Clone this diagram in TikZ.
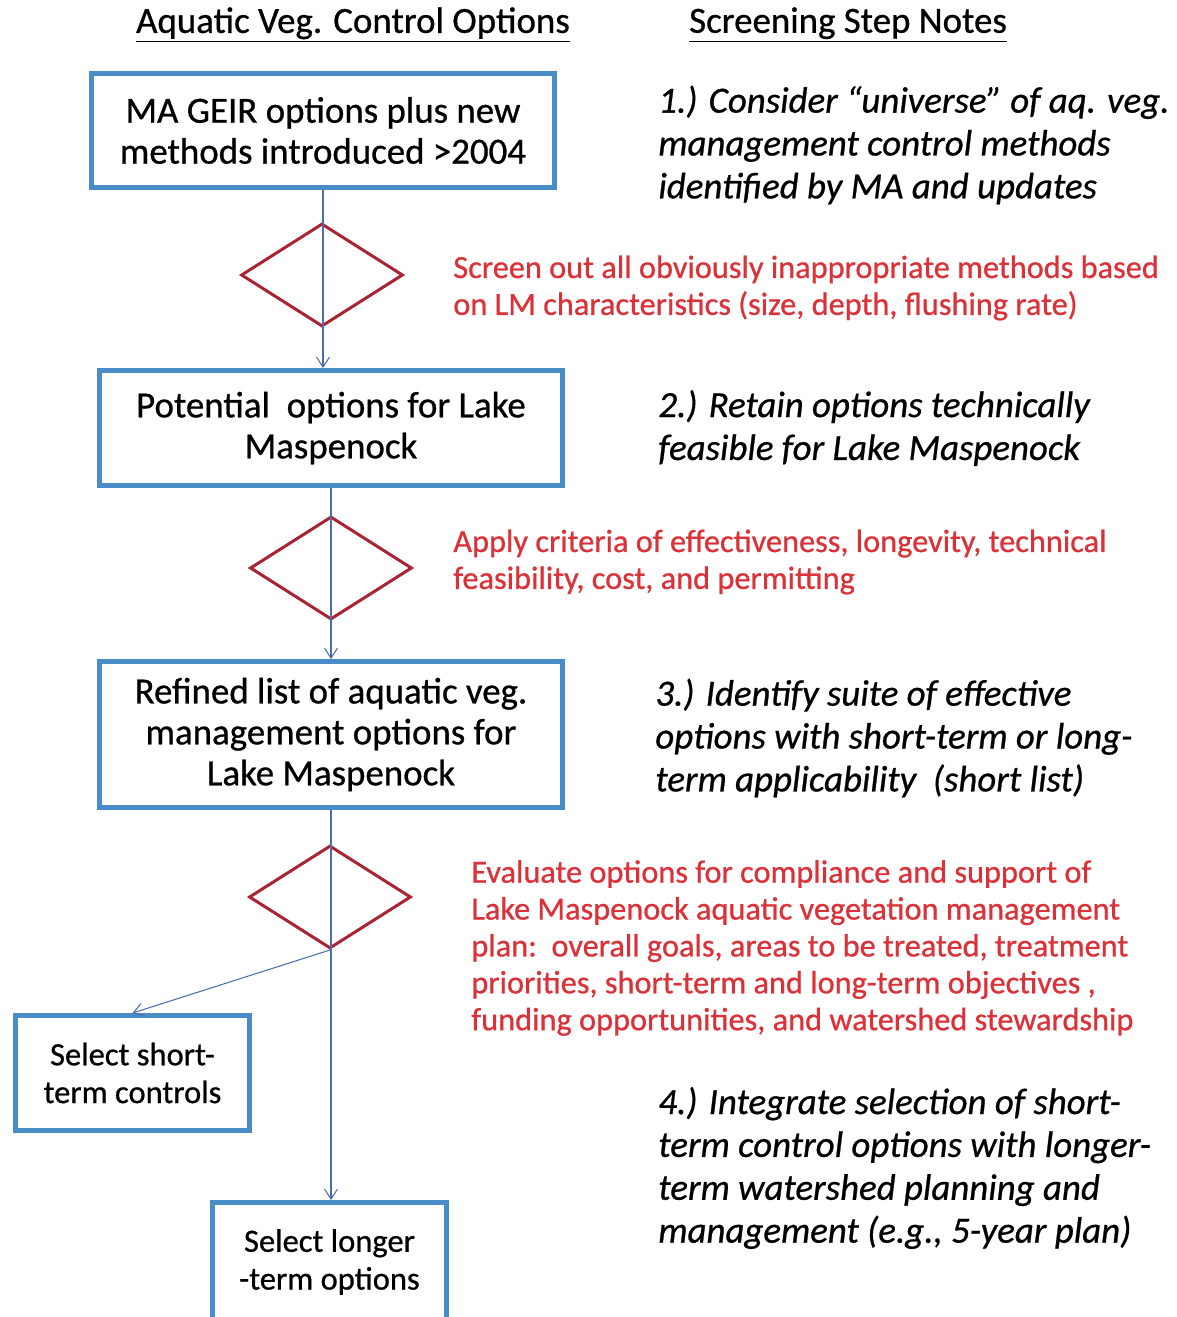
\documentclass[tikz,border=0pt]{standalone}
\usepackage{fontspec}
\setmainfont{Carlito}[FakeBold=0.7]
\usetikzlibrary{shapes.geometric,arrows.meta,positioning}
\definecolor{boxblue}{RGB}{74,140,200}
\definecolor{linkblue}{RGB}{75,110,175}
\definecolor{screenred}{RGB}{170,35,50}
\definecolor{notered}{RGB}{218,50,56}

\begin{document}
\begin{tikzpicture}[
  x=0.02cm, y=-0.02cm,
  box/.style={rectangle, draw=boxblue, line width=2.8pt, minimum width=9.26cm, minimum height=2.3cm, inner sep=0pt, align=center, font=\fontsize{21}{23.3}\selectfont},
  smallbox/.style={box, minimum width=4.68cm, font=\fontsize{18.5}{21.5}\selectfont},
  screen/.style={diamond, draw=screenred, line width=1.7pt, minimum width=3.24cm, minimum height=2.06cm, inner sep=0pt},
  heading/.style={font=\fontsize{21}{24}\selectfont},
  note/.style={anchor=west, inner sep=0pt, align=left, font=\fontsize{21}{24.4}\selectfont\itshape},
  crit/.style={anchor=west, inner sep=0pt, align=left, text=notered, font=\fontsize{18.4}{21}\selectfont},
  arrow/.style={-{Straight Barb[length=2mm,width=2.6mm]}, draw=linkblue, line width=0.6pt}
]
\useasboundingbox (0,0) rectangle (1176,1317);

% Column headings
\node[heading] (optshead) at (353,25) {\underline{Aquatic Veg. Control Options}};
\node[heading] (noteshead) at (848,25) {\underline{Screening Step Notes}};

% Option boxes
\node[box, minimum height=2.28cm] (gier) at (323,130.5) {MA GEIR options plus new\\methods introduced >2004};
\node[box] (potential) at (331,428) {Potential\ \ options for Lake\\Maspenock};
\node[box, minimum height=2.92cm] (refined) at (331,734.5) {Refined list of aquatic veg.\\management options for\\Lake Maspenock};
\node[smallbox] (shortterm) at (132.5,1073) {Select short-\\term controls};
\node[smallbox, minimum height=2.38cm] (longterm) at (329.5,1262) {Select longer\\-term options};

% Screening diamonds
\node[screen] (screen1) at (322,275) {};
\node[screen] (screen2) at (331,568) {};
\node[screen] (screen3) at (330,897) {};

% Screening criteria
\node[crit] (crit1) at (453,288) {Screen out all obviously inappropriate methods based\\on LM characteristics (size, depth, flushing rate)};
\node[crit] (crit2) at (453,562) {Apply criteria of effectiveness, longevity, technical\\feasibility, cost, and permitting};
\node[crit] (crit3) at (471,948) {Evaluate options for compliance and support of\\Lake Maspenock aquatic vegetation management\\plan:\ \ overall goals, areas to be treated, treatment\\priorities, short-term and long-term objectives ,\\funding opportunities, and watershed stewardship};

% Step notes
\node[note] (step1) at (658,145) {1.) Consider “universe” of aq. veg.\\management control methods\\identified by MA and updates};
\node[note] (step2) at (658,428) {2.) Retain options technically\\feasible for Lake Maspenock};
\node[note] (step3) at (655,738) {3.) Identify suite of effective\\options with short-term or long-\\term applicability\ \ (short list)};
\node[note] (step4) at (658,1168) {4.) Integrate selection of short-\\term control options with longer-\\term watershed planning and\\management (e.g., 5-year plan)};

% Connectors
\draw[arrow] (gier.south) -- (gier.south |- potential.north);
\draw[arrow] (potential.south) -- (potential.south |- refined.north);
\draw[arrow] (refined.south) -- (refined.south |- longterm.north);
\draw[arrow] (screen3.south) -- (shortterm.north);

\end{tikzpicture}
\end{document}
